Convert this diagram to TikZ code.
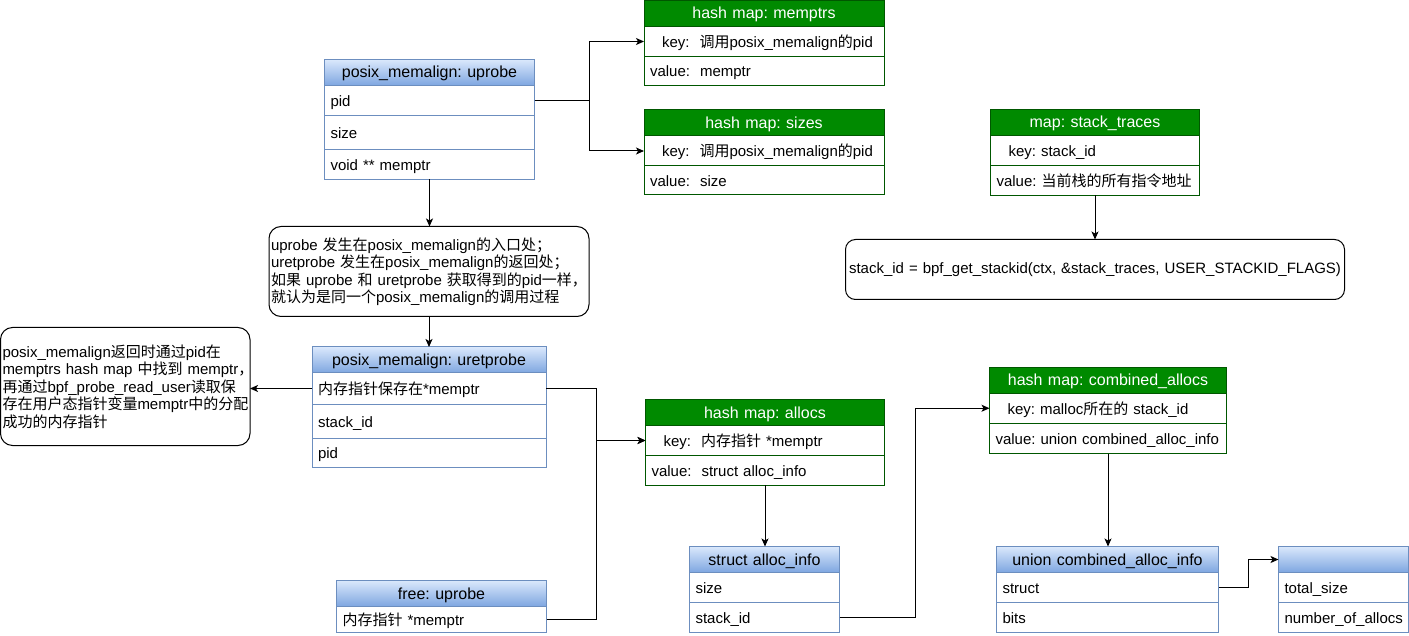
\documentclass[tikz,border=0pt]{standalone}
\usepackage{fontspec}
\setmainfont{Liberation Sans}
\newfontfamily\zhfont{Noto Sans CJK SC}
\newcommand\zh[1]{{\zhfont #1}}
\usetikzlibrary{arrows.meta}
\frenchspacing

\definecolor{bluestroke}{HTML}{6C8EBF}
\definecolor{bluetop}{HTML}{DAE8FC}
\definecolor{bluebot}{HTML}{7EA6E0}
\definecolor{greenfill}{HTML}{008A00}
\definecolor{greenstroke}{HTML}{005700}

\tikzset{
  cell/.style={rectangle, anchor=north west, inner xsep=6pt, inner ysep=0pt,
    outer sep=0pt, line width=1pt, align=left, text height=13pt, text depth=1pt,
    font=\fontsize{15}{18}\selectfont},
  headcell/.style={cell, align=center, minimum height=26pt, text height=12.5pt,
    text depth=1.5pt, font=\fontsize{16}{19}\selectfont},
  bluehead/.style={headcell, draw=bluestroke, top color=bluetop, bottom color=bluebot},
  bluerow/.style={cell, draw=bluestroke, fill=white},
  greenhead/.style={headcell, draw=greenstroke, fill=greenfill, text=white},
  greenrow/.style={cell, draw=greenstroke, fill=white},
  note/.style={rectangle, anchor=north west, rounded corners=12pt, draw, line width=1pt,
    inner xsep=2pt, inner ysep=0pt, outer sep=0pt, font=\fontsize{15}{17.5}\selectfont},
  arr/.style={-{Stealth[length=8pt,width=7pt,inset=2pt]}, line width=1pt},
}

\begin{document}
\begin{tikzpicture}[x=1pt, y=-1pt]
\useasboundingbox (0,0) rectangle (1409,636);

% posix_memalign entry probe
\node[bluehead, text width=198pt] (up) at (324.5,59.5) {posix\_memalign: uprobe};
\node[bluerow, text width=198pt, minimum height=30pt] (up-pid) at (324.5,85.5) {pid};
\node[bluerow, text width=198pt, minimum height=34pt] (up-size) at (324.5,115.5) {size};
\node[bluerow, text width=198pt, minimum height=30pt] (up-mem) at (324.5,149.5) {void ** memptr};

% hash map: memptrs
\node[greenhead, text width=228pt] (mp) at (644,0.5) {hash map: memptrs};
\node[greenrow, text width=228pt, minimum height=30pt] (mp-key) at (644,26.5)
  {\mbox{\hspace*{12pt}key:\ \ \zh{调用}posix\_memalign\zh{的}pid}};
\node[greenrow, text width=228pt, minimum height=29pt] (mp-val) at (644,56.5) {value:\ \ memptr};

% hash map: sizes
\node[greenhead, text width=228pt] (sz) at (644,110) {hash map: sizes};
\node[greenrow, text width=228pt, minimum height=30pt] (sz-key) at (644,136)
  {\mbox{\hspace*{12pt}key:\ \ \zh{调用}posix\_memalign\zh{的}pid}};
\node[greenrow, text width=228pt, minimum height=29pt] (sz-val) at (644,166) {value:\ \ size};

% map: stack_traces
\node[greenhead, text width=197pt] (st) at (990.5,109.5) {map: stack\_traces};
\node[greenrow, text width=197pt, minimum height=30pt] (st-key) at (990.5,135.5)
  {\hspace*{12pt}key: stack\_id};
\node[greenrow, text width=197pt, minimum height=30pt] (st-val) at (990.5,165.5)
  {\mbox{value: \zh{当前栈的所有指令地址}}};

% stack id lookup
\node[note, rounded corners=10pt, align=center, text width=495pt, minimum height=60pt]
  (sid) at (845.5,239.5) {stack\_id = bpf\_get\_stackid(ctx, \&stack\_traces, USER\_STACKID\_FLAGS)};

% explanation of the probe pair
\node[note, align=left, text width=316pt, minimum height=90pt] (n1) at (269,226.5)
  {\mbox{uprobe \zh{发生在}posix\_memalign\zh{的入口处；}}\\
   \mbox{uretprobe \zh{发生在}posix\_memalign\zh{的返回处；}}\\
   \mbox{\zh{如果} uprobe \zh{和} uretprobe \zh{获取得到的}pid\zh{一样，}}\\
   \mbox{\zh{就认为是同一个}posix\_memalign\zh{的调用过程}}};

% posix_memalign return probe
\node[bluehead, text width=222pt] (uret) at (312,347) {posix\_memalign: uretprobe};
\node[bluerow, text width=222pt, minimum height=31pt] (uret-r1) at (312,373)
  {\zh{内存指针保存在}*memptr};
\node[bluerow, text width=222pt, minimum height=34pt] (uret-r2) at (312,404) {stack\_id};
\node[bluerow, text width=222pt, minimum height=29pt] (uret-r3) at (312,438) {pid};

% explanation of the return path
\node[note, align=left, text width=245.5pt, minimum height=118pt] (n2) at (0.5,327.5)
  {\mbox{posix\_memalign\zh{返回时通过}pid\zh{在}}\\
   \mbox{memptrs hash map \zh{中找到} memptr\zh{，}}\\
   \mbox{\zh{再通过}bpf\_probe\_read\_user\zh{读取保}}\\
   \mbox{\zh{存在用户态指针变量}memptr\zh{中的分配}}\\
   \mbox{\zh{成功的内存指针}}};

% free probe
\node[bluehead, text width=198pt] (free) at (336.5,580.5) {free: uprobe};
\node[bluerow, text width=198pt, minimum height=26pt] (free-r1) at (336.5,606.5)
  {\zh{内存指针} *memptr};

% hash map: allocs
\node[greenhead, text width=227pt] (al) at (645.5,399.5) {hash map: allocs};
\node[greenrow, text width=227pt, minimum height=30pt] (al-key) at (645.5,425.5)
  {\mbox{\hspace*{12pt}key:\ \ \zh{内存指针} *memptr}};
\node[greenrow, text width=227pt, minimum height=29.5pt] (al-val) at (645.5,455.5)
  {value:\ \ struct alloc\_info};

% struct alloc_info
\node[bluehead, text width=138pt] (ai) at (689.5,546.5) {struct alloc\_info};
\node[bluerow, text width=138pt, minimum height=30pt] (ai-size) at (689.5,572.5) {size};
\node[bluerow, text width=138pt, minimum height=30pt] (ai-sid) at (689.5,602.5) {stack\_id};

% hash map: combined_allocs
\node[greenhead, text width=225pt] (ca) at (989.5,367.5) {hash map: combined\_allocs};
\node[greenrow, text width=225pt, minimum height=29.5pt] (ca-key) at (989.5,393.5)
  {\mbox{\hspace*{12pt}key: malloc\zh{所在的} stack\_id}};
\node[greenrow, text width=225pt, minimum height=30.5pt] (ca-val) at (989.5,423)
  {\mbox{value: union combined\_alloc\_info}};

% union combined_alloc_info
\node[bluehead, text width=210pt] (un) at (996.5,546.5) {union combined\_alloc\_info};
\node[bluerow, text width=210pt, minimum height=30pt] (un-st) at (996.5,572.5) {struct};
\node[bluerow, text width=210pt, minimum height=30pt] (un-bits) at (996.5,602.5) {bits};

% anonymous struct inside the union
\node[bluehead, text width=118pt] (an) at (1278.5,546.5) {};
\node[bluerow, text width=118pt, minimum height=30pt] (an-total) at (1278.5,572.5) {total\_size};
\node[bluerow, text width=118pt, minimum height=30pt] (an-num) at (1278.5,602.5) {\mbox{number\_of\_allocs}};

% routing columns for elbow connectors
\coordinate (j1) at (589.5,0);
\coordinate (j2) at (596,0);
\coordinate (j3) at (915,0);
\coordinate (j4) at (1248.5,0);

% connectors
\draw[arr] (up-pid.east) -- (up-pid.east -| j1) |- (mp-key.west);
\draw[arr] (up-pid.east) -- (up-pid.east -| j1) |- (sz-key.west);
\draw[arr] (up-mem.south) -- (up-mem.south |- n1.north);
\draw[arr] (n1.south) -- (n1.south |- uret.north);
\draw[arr] (uret-r1.west) -- (uret-r1.west -| n2.east);
\draw[arr] (uret-r1.east) -- (uret-r1.east -| j2) |- (al-key.west);
\draw[arr] (free-r1.east) -- (free-r1.east -| j2) |- (al-key.west);
\draw[arr] (al-val.south) -- (al-val.south |- ai.north);
\draw[arr] (ai-sid.east) -- (ai-sid.east -| j3) |- (ca-key.west);
\draw[arr] (ca-val.south) -- (ca-val.south |- un.north);
\draw[arr] (un-st.east) -- (un-st.east -| j4) |- (an.west);
\draw[arr] (st-val.south) -- (st-val.south |- sid.north);
\end{tikzpicture}
\end{document}
